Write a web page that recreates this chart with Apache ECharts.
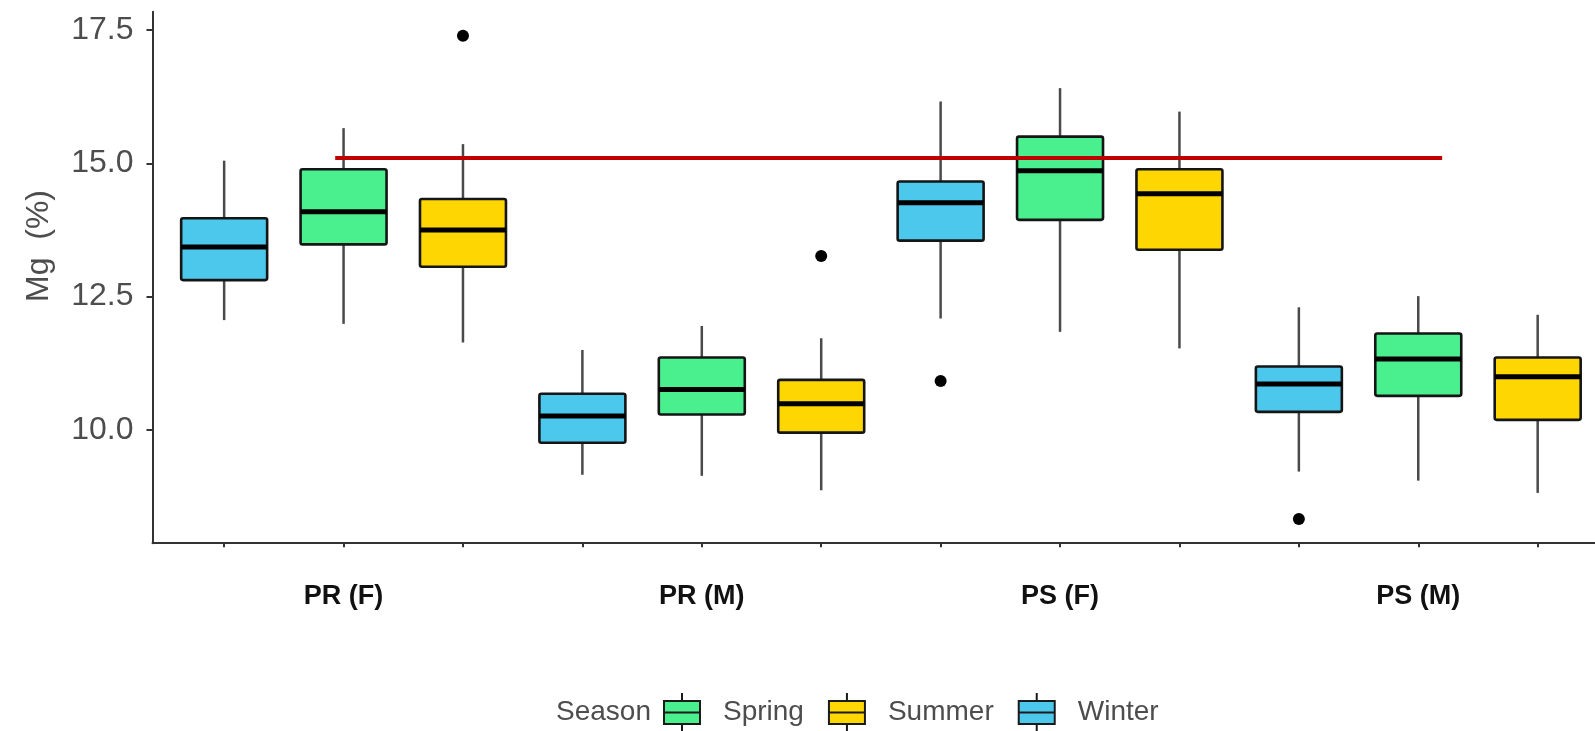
<!DOCTYPE html>
<html>
<head>
<meta charset="utf-8">
<title>Mg (%) by season</title>
<script src="https://cdn.jsdelivr.net/npm/echarts@6/dist/echarts.min.js"></script>
<style>
    html, body { margin: 0; padding: 0; background: #fff; }
    #chart { width: 1595px; height: 731px; }
</style>
</head>
<body>
<div id="chart"></div>
<script>
    // groups on the x axis, seasons inside each group (left to right)
    var groups = ['PR (F)', 'PR (M)', 'PS (F)', 'PS (M)'];
    var seasons = ['Winter', 'Spring', 'Summer'];
    var legendOrder = ['Spring', 'Summer', 'Winter'];

    // [lower whisker, Q1, median, Q3, upper whisker] for each group
    var winterStats = [
        [12.06, 12.81, 13.43, 13.97, 15.05],
        [9.16, 9.76, 10.26, 10.68, 11.50],
        [12.09, 13.55, 14.26, 14.66, 16.16],
        [9.22, 10.34, 10.86, 11.19, 12.30]
    ];
    var springStats = [
        [11.99, 13.48, 14.09, 14.89, 15.66],
        [9.14, 10.29, 10.76, 11.36, 11.95],
        [11.84, 13.94, 14.86, 15.50, 16.41],
        [9.05, 10.64, 11.33, 11.81, 12.51]
    ];
    var summerStats = [
        [11.64, 13.06, 13.75, 14.33, 15.36],
        [8.87, 9.95, 10.49, 10.94, 11.72],
        [11.53, 13.38, 14.43, 14.89, 15.97],
        [8.82, 10.19, 11.00, 11.36, 12.16]
    ];
    // outliers: [group index, season index, value]
    var outliers = [
        [0, 2, 17.39],
        [1, 2, 13.26],
        [2, 0, 10.92],
        [3, 0, 8.33]
    ];
    // red reference line (x in slot units, y value)
    var refLineFrom = 1.93;
    var refLineTo = 11.2;
    var refLineValue = 15.1;

    var yTicks = [10, 12.5, 15, 17.5];

    var seasonColors = { Winter: '#4dc8ed', Spring: '#4af08d', Summer: '#fed702' };
    var statsBySeason = { Winter: winterStats, Spring: springStats, Summer: summerStats };

    // slot position of a box: 1..12
    function slot(g, s) { return g * 3 + s + 1; }

    var slotTicks = [];
    for (var i = 1; i <= groups.length * seasons.length; i++) slotTicks.push(i);
    var groupLabelSlots = groups.map(function (g, gi) { return slot(gi, 1); });

    function renderBox(params, api) {
        var x = api.value(0);
        var lo = api.coord([x, api.value(1)]);
        var q1 = api.coord([x, api.value(2)]);
        var med = api.coord([x, api.value(3)]);
        var q3 = api.coord([x, api.value(4)]);
        var hi = api.coord([x, api.value(5)]);
        var half = api.size([0.72, 0])[0] / 2;
        var whisker = { stroke: '#4a4a4a', lineWidth: 2.5 };
        return {
            type: 'group',
            children: [
                { type: 'line', shape: { x1: hi[0], y1: hi[1], x2: q3[0], y2: q3[1] }, style: whisker },
                { type: 'line', shape: { x1: q1[0], y1: q1[1], x2: lo[0], y2: lo[1] }, style: whisker },
                {
                    type: 'rect',
                    shape: { x: q3[0] - half, y: q3[1], width: half * 2, height: q1[1] - q3[1], r: 2 },
                    style: { fill: api.visual('color'), stroke: '#151515', lineWidth: 2.6 }
                },
                {
                    type: 'line',
                    shape: { x1: med[0] - half, y1: med[1], x2: med[0] + half, y2: med[1] },
                    style: { stroke: '#000', lineWidth: 5 }
                }
            ]
        };
    }

    var series = seasons.map(function (name, si) {
        return {
            name: name,
            type: 'custom',
            renderItem: renderBox,
            itemStyle: { color: seasonColors[name] },
            encode: { x: 0, y: [1, 2, 3, 4, 5] },
            data: statsBySeason[name].map(function (st, gi) {
                return [slot(gi, si)].concat(st);
            }),
            z: 2
        };
    });

    series.push({
        name: 'outliers',
        type: 'scatter',
        symbol: 'circle',
        symbolSize: 12,
        itemStyle: { color: '#000', opacity: 1 },
        data: outliers.map(function (o) { return [slot(o[0], o[1]), o[2]]; }),
        z: 3
    });

    series.push({
        name: 'reference',
        type: 'line',
        symbol: 'none',
        lineStyle: { color: '#c00000', width: 4 },
        data: [[refLineFrom, refLineValue], [refLineTo, refLineValue]],
        z: 5
    });

    var chart = echarts.init(document.getElementById('chart'));
    var option = {
        animation: false,
        backgroundColor: '#fff',
        // the panel runs past the right edge of the picture, so the x range stops at 12.48
        grid: { left: 152.5, right: 0, top: 11.7, bottom: 187.8 },
        xAxis: {
            type: 'value',
            min: 0.4,
            max: 12.48,
            splitLine: { show: false },
            axisLine: { show: true, lineStyle: { color: '#333', width: 2 } },
            axisTick: { show: true, customValues: slotTicks, length: 4, lineStyle: { color: '#333', width: 2 } },
            axisLabel: {
                customValues: groupLabelSlots,
                formatter: function (v) { return groups[Math.round((v - 2) / 3)]; },
                margin: 40,
                color: '#111',
                fontWeight: 'bold',
                fontSize: 27,
                fontFamily: 'Liberation Sans, Arial, sans-serif'
            }
        },
        yAxis: {
            type: 'value',
            min: 7.877,
            max: 17.843,
            splitLine: { show: false },
            axisLine: { show: true, lineStyle: { color: '#333', width: 2 } },
            axisTick: { show: true, customValues: yTicks, length: 6, lineStyle: { color: '#333', width: 2 } },
            axisLabel: {
                customValues: yTicks,
                formatter: function (v) { return v.toFixed(1); },
                margin: 19,
                color: '#4d4d4d',
                fontSize: 32,
                fontFamily: 'Liberation Sans, Arial, sans-serif'
            }
        },
        legend: {
            data: legendOrder.map(function (n) {
                return { name: n, itemStyle: { color: seasonColors[n] } };
            }),
            left: 663,
            top: 692,
            padding: 0,
            itemGap: 24,
            itemWidth: 36,
            itemHeight: 39,
            icon: 'path://M0,8H36V31H0Z M0,19.5H36 M18,0V8 M18,31V39',
            itemStyle: { borderColor: '#1a1a1a', borderWidth: 2 },
            textStyle: {
                color: '#4d4d4d',
                fontSize: 28,
                fontFamily: 'Liberation Sans, Arial, sans-serif',
                padding: [0, 0, 0, 18]
            }
        },
        graphic: [
            {
                type: 'text',
                x: 39,
                y: 246,
                rotation: Math.PI / 2,
                style: {
                    text: 'Mg  (%)',
                    fill: '#4d4d4d',
                    fontSize: 32,
                    fontFamily: 'Liberation Sans, Arial, sans-serif',
                    align: 'center',
                    verticalAlign: 'middle'
                }
            },
            {
                type: 'text',
                x: 556,
                y: 712,
                style: {
                    text: 'Season',
                    fill: '#4d4d4d',
                    fontSize: 28,
                    fontFamily: 'Liberation Sans, Arial, sans-serif',
                    align: 'left',
                    verticalAlign: 'middle'
                }
            }
        ],
        series: series
    };
    chart.setOption(option);
    window.addEventListener('resize', function () {
        chart.resize();
    });
</script>
</body>
</html>
